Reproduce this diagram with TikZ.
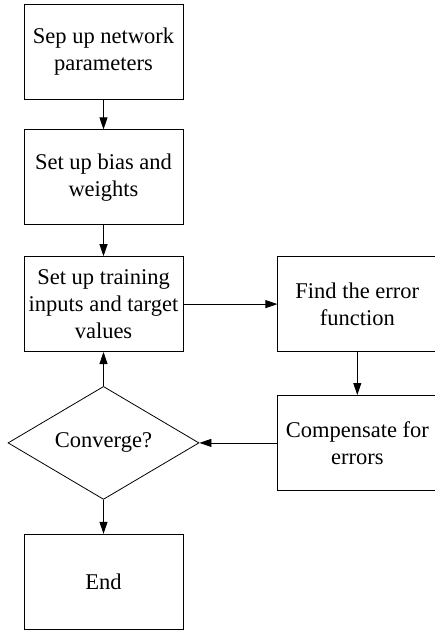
\documentclass[tikz,border=0pt]{standalone}
\usepackage{fontspec}
\setmainfont{Liberation Serif}
\usetikzlibrary{positioning,shapes.geometric,arrows.meta}

\begin{document}
\begin{tikzpicture}[x=1pt,y=-1pt, % training loop of the network
    box/.style={draw, line width=0.8pt, minimum width=159pt, minimum height=95pt,
        align=center, font=\fontsize{22.5}{27}\selectfont},
    decide/.style={draw, diamond, aspect=1.7, line width=0.8pt, inner sep=0pt,
        minimum width=191pt, minimum height=113pt, font=\fontsize{22.5}{27}\selectfont},
    flow/.style={-{Triangle[length=12pt,width=8pt]}, line width=0.8pt}]
    \useasboundingbox (0,0) rectangle (435,632);

    \node[box] (setup) at (103.5,51.5) {Sep up network\\parameters};
    \node[box, below=30pt of setup] (bias) {Set up bias and\\weights};
    \node[box, below=31pt of bias] (train) {Set up training\\inputs and target\\values};
    \node[decide, below=34pt of train] (conv) {Converge?};
    \node[box, below=34pt of conv] (stop) {End};
    \node[box, right=94pt of train] (err) {Find the error\\function};
    \node[box, below=43pt of err] (comp) {Compensate for\\errors};

    \draw[flow] (setup) -- (bias);
    \draw[flow] (bias) -- (train);
    \draw[flow] (train) -- (err);
    \draw[flow] (err) -- (comp);
    \draw[flow] (comp) -- (conv);
    \draw[flow] (conv) -- (train);
    \draw[flow] (conv) -- (stop);
\end{tikzpicture}
\end{document}
